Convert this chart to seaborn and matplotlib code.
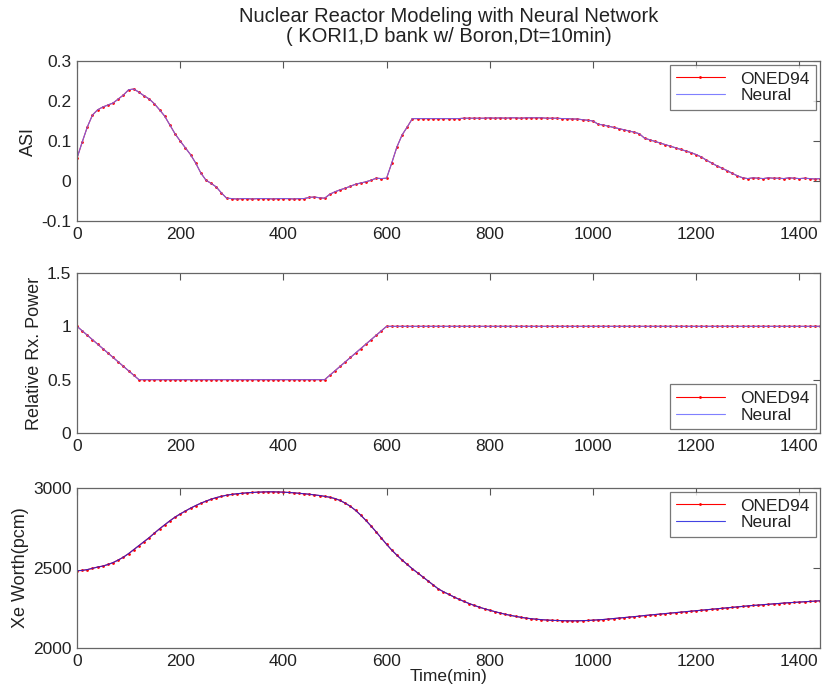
import numpy as np
import pandas as pd
import seaborn as sns
import matplotlib
matplotlib.use("Agg")
import matplotlib.pyplot as plt
from matplotlib.ticker import FuncFormatter

# time grid, every 10 minutes
time = np.arange(0, 1441, 10)

asi = [
    0.057, 0.097, 0.135, 0.165, 0.178, 0.185, 0.190, 0.195, 0.205, 0.215,
    0.228, 0.230, 0.222, 0.213, 0.205, 0.193, 0.178, 0.162, 0.140, 0.118,
    0.100, 0.083, 0.066, 0.045, 0.020, 0.002, -0.006, -0.015, -0.030, -0.043,
    -0.044, -0.045, -0.044, -0.044, -0.045, -0.044, -0.044, -0.044, -0.045, -0.044,
    -0.044, -0.044, -0.045, -0.044, -0.044, -0.041, -0.040, -0.042, -0.043, -0.033,
    -0.027, -0.022, -0.018, -0.013, -0.008, -0.005, -0.002, 0.002, 0.007, 0.006,
    0.007, 0.045, 0.085, 0.115, 0.135, 0.156, 0.156, 0.156, 0.156, 0.156,
    0.156, 0.156, 0.156, 0.156, 0.156, 0.157, 0.157, 0.157, 0.157, 0.157,
    0.158, 0.157, 0.158, 0.157, 0.158, 0.158, 0.157, 0.158, 0.158, 0.158,
    0.158, 0.157, 0.157, 0.157, 0.156, 0.156, 0.155, 0.155, 0.153, 0.152,
    0.150, 0.142, 0.140, 0.137, 0.134, 0.131, 0.128, 0.125, 0.122, 0.118,
    0.107, 0.103, 0.099, 0.095, 0.091, 0.087, 0.083, 0.079, 0.075, 0.071,
    0.066, 0.060, 0.052, 0.045, 0.038, 0.032, 0.026, 0.019, 0.013, 0.008,
    0.006, 0.008, 0.007, 0.006, 0.008, 0.007, 0.007, 0.006, 0.008, 0.007,
    0.006, 0.007, 0.006, 0.005, 0.006,
]

power = [
    1.000, 0.958, 0.917, 0.875, 0.833, 0.792, 0.750, 0.708, 0.667, 0.625,
    0.583, 0.542, 0.500, 0.500, 0.500, 0.500, 0.500, 0.500, 0.500, 0.500,
    0.500, 0.500, 0.500, 0.500, 0.500, 0.500, 0.500, 0.500, 0.500, 0.500,
    0.500, 0.500, 0.500, 0.500, 0.500, 0.500, 0.500, 0.500, 0.500, 0.500,
    0.500, 0.500, 0.500, 0.500, 0.500, 0.500, 0.500, 0.500, 0.500, 0.542,
    0.583, 0.625, 0.667, 0.708, 0.750, 0.792, 0.833, 0.875, 0.917, 0.958,
    1.000, 1.000, 1.000, 1.000, 1.000, 1.000, 1.000, 1.000, 1.000, 1.000,
    1.000, 1.000, 1.000, 1.000, 1.000, 1.000, 1.000, 1.000, 1.000, 1.000,
    1.000, 1.000, 1.000, 1.000, 1.000, 1.000, 1.000, 1.000, 1.000, 1.000,
    1.000, 1.000, 1.000, 1.000, 1.000, 1.000, 1.000, 1.000, 1.000, 1.000,
    1.000, 1.000, 1.000, 1.000, 1.000, 1.000, 1.000, 1.000, 1.000, 1.000,
    1.000, 1.000, 1.000, 1.000, 1.000, 1.000, 1.000, 1.000, 1.000, 1.000,
    1.000, 1.000, 1.000, 1.000, 1.000, 1.000, 1.000, 1.000, 1.000, 1.000,
    1.000, 1.000, 1.000, 1.000, 1.000, 1.000, 1.000, 1.000, 1.000, 1.000,
    1.000, 1.000, 1.000, 1.000, 1.000,
]

xe = [
    2483, 2485, 2490, 2498, 2506, 2512, 2522, 2534, 2550, 2568,
    2590, 2615, 2640, 2665, 2690, 2718, 2745, 2770, 2795, 2818,
    2838, 2856, 2874, 2890, 2905, 2918, 2930, 2940, 2948, 2955,
    2960, 2964, 2967, 2970, 2972, 2974, 2975, 2976, 2976, 2975,
    2974, 2972, 2970, 2967, 2964, 2961, 2957, 2953, 2948, 2942,
    2934, 2922, 2905, 2885, 2860, 2830, 2797, 2762, 2725, 2686,
    2648, 2612, 2580, 2550, 2522, 2495, 2470, 2445, 2420, 2395,
    2370, 2352, 2336, 2320, 2305, 2291, 2278, 2266, 2255, 2245,
    2236, 2227, 2219, 2211, 2204, 2198, 2192, 2187, 2183, 2180,
    2177, 2175, 2173, 2172, 2171, 2170, 2170, 2170, 2171, 2172,
    2174, 2176, 2178, 2181, 2184, 2187, 2190, 2193, 2196, 2199,
    2203, 2206, 2209, 2212, 2215, 2218, 2221, 2224, 2227, 2230,
    2233, 2236, 2239, 2242, 2245, 2248, 2251, 2254, 2257, 2260,
    2263, 2266, 2268, 2271, 2273, 2276, 2278, 2281, 2283, 2285,
    2287, 2289, 2291, 2293, 2295,
]

# the network output sits right on top of the code output
asi_nn = list(asi)
power_nn = list(power)
xe_nn = list(xe)

sns.set_style("white")
plt.rcParams["font.family"] = ["Liberation Sans", "DejaVu Sans"]
txt = "#222222"

fig = plt.figure(figsize=(8.24, 6.96), dpi=100)
left, width, height = 77 / 824, 743 / 824, 160 / 696
bottoms = [1 - 221 / 696, 1 - 433 / 696, 1 - 648 / 696]
axes = [fig.add_axes([left, b, width, height]) for b in bottoms]

panels = [
    (asi, asi_nn, "ASI", (-0.1, 0.3), [-0.1, 0, 0.1, 0.2, 0.3], "upper right", "#6a6aff"),
    (power, power_nn, "Relative Rx. Power", (0, 1.5), [0, 0.5, 1, 1.5], "lower right", "#6a6aff"),
    (xe, xe_nn, "Xe Worth(pcm)", (2000, 3000), [2000, 2500, 3000], "upper right", "#2222dd"),
]

for ax, (ref, nn, ylab, ylim, yt, loc, nn_col) in zip(axes, panels):
    sns.lineplot(x=time, y=ref, ax=ax, color="red", lw=0.8, marker=".",
                 markersize=4, markeredgewidth=0, label="ONED94")
    sns.lineplot(x=time, y=nn, ax=ax, color=nn_col, lw=0.8, alpha=0.85,
                 label="Neural")
    ax.set_xlim(0, 1440)
    ax.set_ylim(*ylim)
    ax.set_xticks(range(0, 1401, 200))
    ax.set_yticks(yt)
    ax.yaxis.set_major_formatter(FuncFormatter(lambda v, p: "%g" % v))
    ax.tick_params(direction="in", top=True, right=True, length=5, pad=4,
                   labelsize=12.5, colors="#555555", labelcolor=txt)
    for s in ax.spines.values():
        s.set_color("#666666")
        s.set_linewidth(0.9)
    ax.set_ylabel(ylab, fontsize=13, color=txt, labelpad=3)
    ax.set_xlabel("")
    leg = ax.legend(loc=loc, fontsize=12.5, frameon=True, fancybox=False,
                    borderaxespad=0.25, handlelength=2.8, labelspacing=0.1,
                    borderpad=0.35, handletextpad=0.9)
    leg.get_frame().set_edgecolor("#555555")
    leg.get_frame().set_linewidth(0.9)
    for t in leg.get_texts():
        t.set_color(txt)

axes[2].set_xlabel("Time(min)", fontsize=12.5, color=txt, labelpad=0)
axes[0].set_title("Nuclear Reactor Modeling with Neural Network\n"
                  "( KORI1,D bank w/ Boron,Dt=10min)",
                  fontsize=14.5, color=txt, pad=14, linespacing=1.05)

fig.savefig("out.png", dpi=100)
